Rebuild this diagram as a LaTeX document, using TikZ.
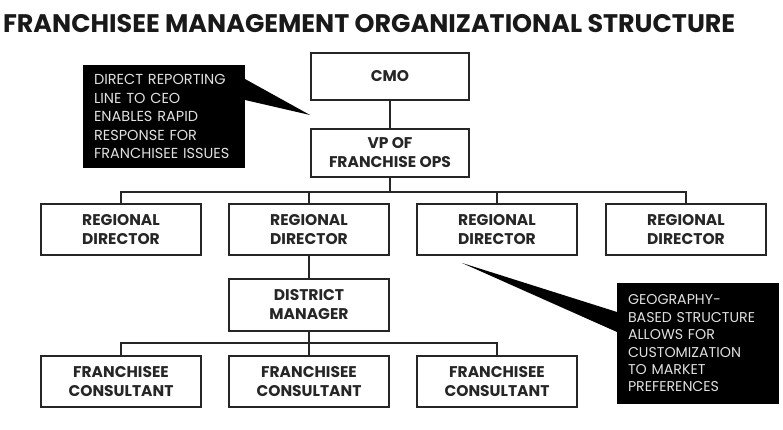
\documentclass[tikz,border=0pt]{standalone}
\usepackage{fontspec}
\setmainfont{Poppins}
\usetikzlibrary{calc}

\begin{document}
\begin{tikzpicture}[x=1pt,y=-1pt,line width=2pt]
  \tikzstyle{post}=[draw=black!85,fill=white,minimum width=160pt,minimum height=51pt,
                    inner sep=0pt,align=center,text=black!85,
                    font=\fontsize{15.5}{19}\selectfont\bfseries]
  \tikzstyle{note}=[fill=black,text=white!88!black,align=left,anchor=north west,
                    inner xsep=11pt,inner ysep=0pt,font=\fontsize{14.5}{18.5}\selectfont]
  \tikzstyle{wire}=[draw=black!85,line width=2pt]

  \useasboundingbox (0,0) rectangle (783,430);

  \node[anchor=west,inner sep=0pt,text=black!90,font=\fontsize{25.4}{28}\selectfont\bfseries]
       (title) at (2,24) {FRANCHISEE MANAGEMENT ORGANIZATIONAL STRUCTURE};

  % top of the chart
  \node[post,minimum width=158pt,minimum height=47pt] (cmo) at (390,76.5) {CMO};
  \node[post,minimum width=158pt,minimum height=48pt] (vp)  at (390,153)  {VP OF\\FRANCHISE OPS};

  % regional level
  \node[post] (rd1) at (121,229.5) {REGIONAL\\DIRECTOR};
  \node[post] (rd2) at (309,229.5) {REGIONAL\\DIRECTOR};
  \node[post] (rd3) at (497,229.5) {REGIONAL\\DIRECTOR};
  \node[post] (rd4) at (686,229.5) {REGIONAL\\DIRECTOR};

  % district level
  \node[post,minimum height=52pt] (dm) at (309,305) {DISTRICT\\MANAGER};
  \node[post] (fc1) at (121,381.5) {FRANCHISEE\\CONSULTANT};
  \node[post] (fc2) at (309,381.5) {FRANCHISEE\\CONSULTANT};
  \node[post] (fc3) at (497,381.5) {FRANCHISEE\\CONSULTANT};

  \coordinate (bus1) at (390,192);
  \coordinate (bus2) at (309,343);

  \draw[wire] (cmo) -- (vp);
  \draw[wire] (vp) -- (bus1);
  \draw[wire] (rd1.north) |- (bus1) -| (rd4.north);
  \draw[wire] (rd2.north) -- (rd2.north |- bus1);
  \draw[wire] (rd3.north) -- (rd3.north |- bus1);
  \draw[wire] (rd2) -- (dm);
  \draw[wire] (dm) -- (bus2);
  \draw[wire] (fc1.north) |- (bus2) -| (fc3.north);
  \draw[wire] (fc2.north) -- (fc2.north |- bus2);

  % callouts
  \node[note,minimum width=154pt,minimum height=103pt,text width=140pt] (note1) at (82,64)
       {DIRECT REPORTING\\LINE TO CEO\\ENABLES RAPID\\RESPONSE FOR\\FRANCHISEE ISSUES};
  \coordinate (tip1) at (310,115);
  \fill ($(note1.north east)+(-1,15)$) -- (tip1) -- ($(note1.north east)+(-1,36)$) -- cycle;

  \node[note,minimum width=155pt,minimum height=121pt,text width=140pt,
        font=\fontsize{14.2}{17.4}\selectfont] (note2) at (616,282)
       {GEOGRAPHY-\\BASED STRUCTURE\\ALLOWS FOR\\CUSTOMIZATION\\TO MARKET\\PREFERENCES};
  \coordinate (tip2) at (462,263);
  \fill ($(note2.north west)+(1,30)$) -- (tip2) -- ($(note2.north west)+(1,50)$) -- cycle;
\end{tikzpicture}
\end{document}
